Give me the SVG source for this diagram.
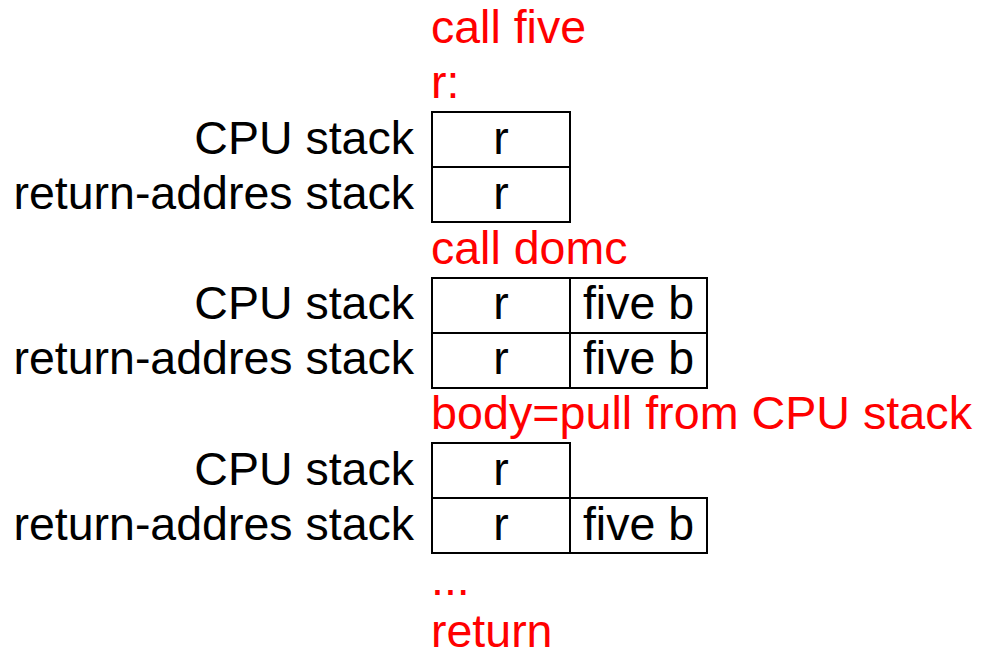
<svg xmlns="http://www.w3.org/2000/svg" width="984" height="653" viewBox="0 0 984 653">
<style>
text{font-family:"Liberation Sans",Arial,sans-serif;font-size:46.5px}
.lab{text-anchor:end;fill:#000}
.red{fill:#ff0000}
.cell{text-anchor:middle;fill:#000}
rect{fill:#fff;stroke:#000;stroke-width:2}
</style>
<rect x="0" y="0" width="984" height="653" style="stroke:none"/>
<g id="annotations">
<text class="red" x="431" y="43">call five</text>
<text class="red" x="431" y="98">r:</text>
<text class="red" x="431" y="264">call domc</text>
<text class="red" x="431" y="429" textLength="541" lengthAdjust="spacingAndGlyphs">body=pull from CPU stack</text>
<text class="red" x="431" y="595">...</text>
<text class="red" x="431" y="647">return</text>
</g>
<g id="state1">
<text class="lab" x="414" y="154">CPU stack</text>
<text class="lab" x="414" y="209">return-addres stack</text>
<rect x="432" y="112" width="138" height="55"/>
<text class="cell" x="501" y="154">r</text>
<rect x="432" y="167" width="138" height="55"/>
<text class="cell" x="501" y="209">r</text>
</g>
<g id="state2">
<text class="lab" x="414" y="319">CPU stack</text>
<text class="lab" x="414" y="374">return-addres stack</text>
<rect x="432" y="278" width="138" height="55"/>
<text class="cell" x="501" y="319">r</text>
<rect x="570" y="278" width="137" height="55"/>
<text class="cell" x="638.5" y="319">five b</text>
<rect x="432" y="333" width="138" height="55"/>
<text class="cell" x="501" y="374">r</text>
<rect x="570" y="333" width="137" height="55"/>
<text class="cell" x="638.5" y="374">five b</text>
</g>
<g id="state3">
<text class="lab" x="414" y="485">CPU stack</text>
<text class="lab" x="414" y="540">return-addres stack</text>
<rect x="432" y="443" width="138" height="55"/>
<text class="cell" x="501" y="485">r</text>
<rect x="432" y="498" width="138" height="55"/>
<text class="cell" x="501" y="540">r</text>
<rect x="570" y="498" width="137" height="55"/>
<text class="cell" x="638.5" y="540">five b</text>
</g>
<g id="connectors"></g>
</svg>
